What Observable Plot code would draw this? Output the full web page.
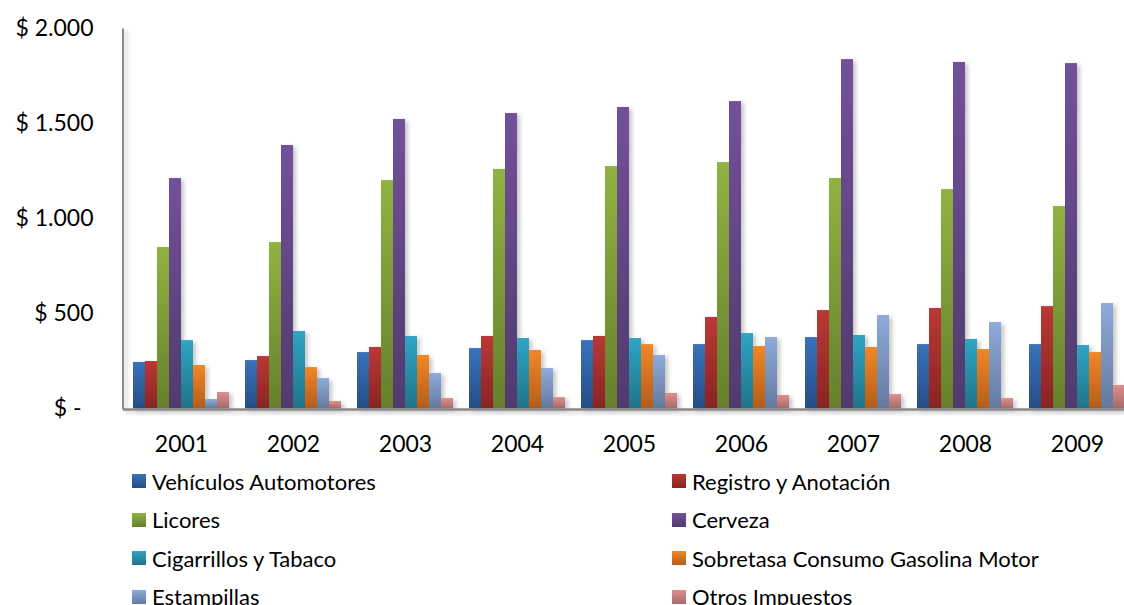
<!DOCTYPE html>
<html lang="es">
<head>
<meta charset="utf-8">
<title>Ingresos tributarios 2001–2009</title>
<script src="https://cdn.jsdelivr.net/npm/d3@7"></script>
<script src="https://cdn.jsdelivr.net/npm/@observablehq/plot@0.6"></script>
<style>
  html, body { margin: 0; padding: 0; background: #fff; overflow: hidden; width: 1124px; height: 605px; }
  body { font-family: Lato, "Open Sans", sans-serif; color: #000; }
  #chart { position: absolute; left: 0; top: 0; width: 1124px; height: 460px; overflow: hidden; }
  #chart svg { max-width: none !important; width: 1135px; height: 460px; }
  #legend { position: absolute; left: 132px; top: 462px; display: grid; grid-template-columns: 540px 452px; grid-auto-rows: 38.5px; }
  .item { display: flex; align-items: center; font-size: 22px; white-space: nowrap; }
  .sw { width: 14px; height: 14px; margin-right: 6px; flex: none; }
</style>
</head>
<body>
<div id="chart"></div>
<div id="legend"></div>
<script>
// Years on the horizontal axis
const years = ["2001", "2002", "2003", "2004", "2005", "2006", "2007", "2008", "2009"];

// Tax categories, in bar order
const seriesNames = [
  "Vehículos Automotores",
  "Registro y Anotación",
  "Licores",
  "Cerveza",
  "Cigarrillos y Tabaco",
  "Sobretasa Consumo Gasolina Motor",
  "Estampillas",
  "Otros Impuestos"
];

// Yearly values per category
const vehiculos   = [245, 255, 297, 318, 360, 339, 376, 339, 339];
const registro    = [250, 276, 324, 382, 382, 482, 518, 529, 539];
const licores     = [850, 876, 1202, 1261, 1276, 1297, 1213, 1155, 1066];
const cerveza     = [1213, 1387, 1524, 1555, 1587, 1618, 1839, 1824, 1818];
const cigarrillos = [360, 408, 382, 371, 371, 397, 387, 366, 334];
const sobretasa   = [229, 218, 282, 308, 339, 329, 324, 313, 297];
const estampillas = [50, 160, 187, 213, 282, 376, 492, 455, 555];
const otros       = [87, 39, 55, 60, 82, 71, 76, 55, 124];

// Y axis ticks and their labels
const yTicks = [0, 500, 1000, 1500, 2000];
const yTickLabels = ["$ -", "$ 500", "$ 1.000", "$ 1.500", "$ 2.000"];

// Bar gradient colours (top, bottom)
const topColors    = ["#3a72bb", "#ba3835", "#90b341", "#73519a", "#30a5c3", "#f28729", "#8eabd9", "#dc8f8d"];
const bottomColors = ["#264d84", "#8a2422", "#667f2d", "#4f3a6d", "#1f7389", "#b35d17", "#6579a0", "#a86a6a"];

const valueSets = [vehiculos, registro, licores, cerveza, cigarrillos, sobretasa, estampillas, otros];
const rows = [];
years.forEach((year, i) => {
  seriesNames.forEach((serie, j) => {
    rows.push({year, serie, value: valueSets[j][i]});
  });
});

const tickLabel = (d) => yTickLabels[yTicks.indexOf(d)];
const font = "Lato, 'Open Sans', sans-serif";

const plot = Plot.plot({
  width: 1135,
  height: 460,
  marginLeft: 123,
  marginRight: 0,
  marginTop: 28.5,
  marginBottom: 51.5,
  style: {fontFamily: font, fontSize: "23px", color: "#000", background: "transparent", overflow: "visible", maxWidth: "none"},
  fx: {domain: years, paddingInner: 0.142, paddingOuter: 0.071, label: null, axis: null},
  x: {domain: seriesNames, padding: 0, axis: null},
  y: {domain: [0, 2000], range: [408.5, 28.5], axis: null},
  color: {domain: seriesNames, range: seriesNames.map((_, i) => `url(#grad${i})`)},
  marks: [
    Plot.barY(rows, {fx: "year", x: "serie", y: "value", fill: "serie", inset: 0}),
    Plot.axisFx({anchor: "bottom", tickSize: 0, tickPadding: 27, fontSize: 23, label: null}),
    Plot.axisY({ticks: yTicks.slice(1), tickFormat: tickLabel, tickSize: 0, tickPadding: 40, fontSize: 23, label: null}),
    Plot.axisY({ticks: yTicks.slice(0, 1), tickFormat: tickLabel, tickSize: 0, tickPadding: 52, fontSize: 23, label: null})
  ]
});

document.getElementById("chart").appendChild(plot);

// Gradients and a soft shadow for the bars
const svg = d3.select(plot);
const defs = svg.insert("defs", ":first-child");
topColors.forEach((c, i) => {
  const g = defs.append("linearGradient").attr("id", `grad${i}`).attr("x1", 0).attr("y1", 0).attr("x2", 0).attr("y2", 1);
  g.append("stop").attr("offset", "0%").attr("stop-color", c);
  g.append("stop").attr("offset", "100%").attr("stop-color", bottomColors[i]);
});
const shadow = defs.append("filter").attr("id", "shadow").attr("x", "-20%").attr("y", "-5%").attr("width", "160%").attr("height", "115%");
shadow.append("feDropShadow").attr("dx", 3).attr("dy", 2).attr("stdDeviation", 2).attr("flood-color", "#000").attr("flood-opacity", 0.22);
svg.selectAll('g[aria-label="bar"]').attr("filter", "url(#shadow)");

// Axis lines along the value axis and the baseline
const yScale = plot.scale("y");
const fxScale = plot.scale("fx");
const x0 = fxScale.range[0];
const x1 = fxScale.range[1];
const axes = svg.append("g").attr("filter", "url(#shadow)").attr("stroke", "#8a8a8a");
axes.append("line").attr("x1", x0).attr("x2", x0).attr("y1", yScale.apply(2000)).attr("y2", yScale.apply(0) + 1).attr("stroke-width", 2);
axes.append("line").attr("x1", x0).attr("x2", x1).attr("y1", yScale.apply(0) + 1).attr("y2", yScale.apply(0) + 1).attr("stroke-width", 2.5);

// Legend in two columns
const legend = d3.select("#legend");
seriesNames.forEach((name, i) => {
  const item = legend.append("div").attr("class", "item");
  item.append("span").attr("class", "sw").style("background", `linear-gradient(to bottom, ${topColors[i]}, ${bottomColors[i]})`);
  item.append("span").text(name);
});
</script>
</body>
</html>
